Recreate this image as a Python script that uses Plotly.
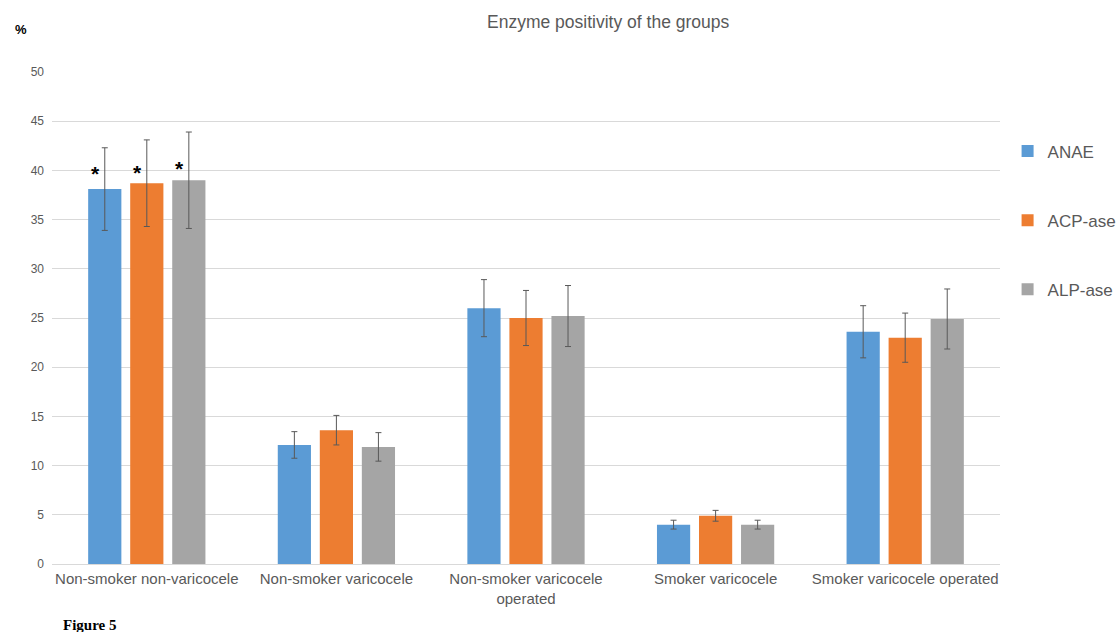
import plotly.graph_objects as go

categories = ["Non-smoker non-varicocele", "Non-smoker varicocele",
              "Non-smoker varicocele<br>operated", "Smoker varicocele",
              "Smoker varicocele operated"]
series_names = ["ANAE", "ACP-ase", "ALP-ase"]
anae = [38.1, 12.1, 26.0, 4.0, 23.6]
acp = [38.7, 13.6, 25.0, 4.9, 23.0]
alp = [39.0, 11.9, 25.2, 4.0, 24.9]
anae_err = [4.2, 1.35, 2.9, 0.45, 2.65]
acp_err = [4.4, 1.5, 2.8, 0.55, 2.5]
alp_err = [4.9, 1.45, 3.1, 0.45, 3.05]
colors = ["#5B9BD5", "#ED7D31", "#A5A5A5"]
star_y = [39.7, 39.8, 40.2]
y_ticks = [0, 5, 10, 15, 20, 25, 30, 35, 40, 45, 50]

fig = go.Figure()
for i, (name, vals, errs) in enumerate(zip(series_names, [anae, acp, alp],
                                            [anae_err, acp_err, alp_err])):
    fig.add_trace(go.Bar(
        name=name, x=categories, y=vals, marker_color=colors[i],
        marker_line_width=0, legendgroup=name,
        error_y=dict(type="data", array=errs, color="#595959",
                     thickness=1, width=3),
    ))

anns = []
# significance asterisks on first group
for i in range(3):
    anns.append(dict(x=categories[0], y=star_y[i], xref="x", yref="y",
                     text="<b>*</b>", showarrow=False,
                     xshift=(i - 1) * 42 - 9,
                     font=dict(size=21, color="#000000")))
anns.append(dict(text="<b>%</b>", x=13, y=30, xref="paper", yref="paper",
                 showarrow=False, xanchor="left", yanchor="middle",
                 font=dict(size=13, color="#000000")))
anns.append(dict(text="<b>Figure 5</b>", x=61, y=625, xref="paper",
                 yref="paper", xanchor="left", yanchor="middle", showarrow=False,
                 font=dict(size=15, color="#000000", family="Liberation Serif")))

# convert pixel-placed text annotations to paper coordinates
L, R, T, B, W, H = 52, 120, 72, 68, 1120, 632
pw, ph = W - L - R, H - T - B
for a in anns[3:]:
    a["x"] = (a["x"] - L) / pw
    a["y"] = (H - B - a["y"]) / ph

fig.update_layout(
    width=W, height=H,
    margin=dict(l=L, r=R, t=T, b=B, autoexpand=False),
    paper_bgcolor="white", plot_bgcolor="white",
    barmode="group", bargap=0.335, bargroupgap=0.21,
    font=dict(family="Liberation Sans, Arial, sans-serif", color="#595959"),
    title=dict(text="Enzyme positivity of the groups", x=0.543, xanchor="center",
               y=0.965, yanchor="middle", font=dict(size=17.5, color="#595959")),
    legend=dict(x=1.008, xanchor="left", y=0.875, yanchor="top",
                tracegroupgap=44, font=dict(size=17, color="#595959"),
                itemwidth=30),
    yaxis=dict(range=[0, 50], tickvals=y_ticks, gridcolor="#D9D9D9",
               gridwidth=1, zeroline=True, zerolinecolor="#D9D9D9",
               zerolinewidth=1, showline=False, ticks="",
               tickfont=dict(size=12, color="#595959"), ticklabelstandoff=7),
    xaxis=dict(showline=False, ticks="", tickfont=dict(size=15, color="#595959"),
               tickangle=0, ticklabelstandoff=4),
    annotations=anns,
)

fig.write_html("out.html")
